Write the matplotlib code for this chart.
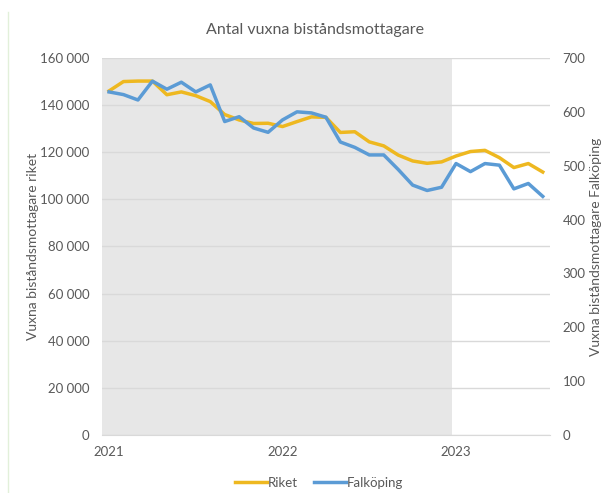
import matplotlib
matplotlib.use("Agg")
import matplotlib.pyplot as plt
from matplotlib.lines import Line2D
from matplotlib.ticker import FuncFormatter

# --- data (monthly, Jan 2021 - Jul 2023) ---
months = list(range(31))
year_ticks = [0, 12, 24]
year_labels = ["2021", "2022", "2023"]
shade_end = 23.75  # grey background up to start of 2023

riket = [146000, 150000, 150200, 150200, 144400, 145600, 144000, 141500,
         136000, 133700, 132200, 132300, 130900, 133000, 135000, 134800,
         128400, 128700, 124400, 122700, 118800, 116300, 115300, 115900,
         118400, 120300, 120800, 117700, 113500, 115200, 111600]
falkoping = [637, 632, 622, 657, 642, 655, 637, 650, 582, 591, 570, 562,
             585, 600, 598, 590, 544, 534, 520, 520, 493, 464, 454, 460,
             504, 489, 504, 501, 457, 467, 443]

# --- style ---
plt.rcParams['font.family'] = ['Lato', 'DejaVu Sans']
txt = '#595959'
c_riket = '#EEB820'
c_falk = '#5B9BD5'

fig = plt.figure(figsize=(6.06, 4.93), dpi=100)
ax = fig.add_axes([0.168, 0.1176, 0.7396, 0.7648])
ax2 = ax.twinx()

ax.axvspan(-0.5, shade_end, color='#E7E7E7', zorder=0, lw=0)
ax.set_xlim(-0.5, 30.5)
ax.set_ylim(0, 160000)
ax.set_yticks(range(0, 160001, 20000))
ax.yaxis.set_major_formatter(FuncFormatter(lambda v, p: f"{int(v):,}".replace(",", " ")))
ax.grid(axis='y', color='#D9D9D9', lw=1, zorder=1)
ax.set_axisbelow(False)

l1, = ax.plot(months, riket, color=c_riket, lw=2.5, zorder=3, solid_joinstyle='round')
l2, = ax2.plot(months, falkoping, color=c_falk, lw=2.5, zorder=3, solid_joinstyle='round')
ax2.set_ylim(0, 700)
ax2.set_yticks(range(0, 701, 100))

ax.set_xticks(year_ticks)
ax.set_xticklabels(year_labels)

for a in (ax, ax2):
    for s in a.spines.values():
        s.set_visible(False)
    a.tick_params(length=0, colors=txt, labelsize=9.5)
ax.tick_params(axis='y', pad=9)
ax2.tick_params(axis='y', pad=9)
ax.tick_params(axis='x', pad=8)
ax.spines['bottom'].set_visible(True)
ax.spines['bottom'].set_color('#D9D9D9')

ax.set_ylabel("Vuxna biståndsmottagare riket", color=txt, fontsize=10, labelpad=1)
ax2.set_ylabel("Vuxna biståndsmottagare Falköping", color=txt, fontsize=10, labelpad=3)
fig.text(0.52, 0.94, "Antal vuxna biståndsmottagare", ha='center', va='center',
         color=txt, fontsize=11.5)

fig.legend([l1, l2], ["Riket", "Falköping"], loc='center', bbox_to_anchor=(0.527, 0.021),
           ncol=2, frameon=False, fontsize=9.5, labelcolor=txt, handlelength=2.4,
           handletextpad=0.1, columnspacing=1.2)

# thin border line at the left edge of the screenshot
fig.add_artist(Line2D([0.013, 0.013], [0.0, 0.975], color='#E2F0DA', lw=1))

fig.savefig("out.png", dpi=100)
